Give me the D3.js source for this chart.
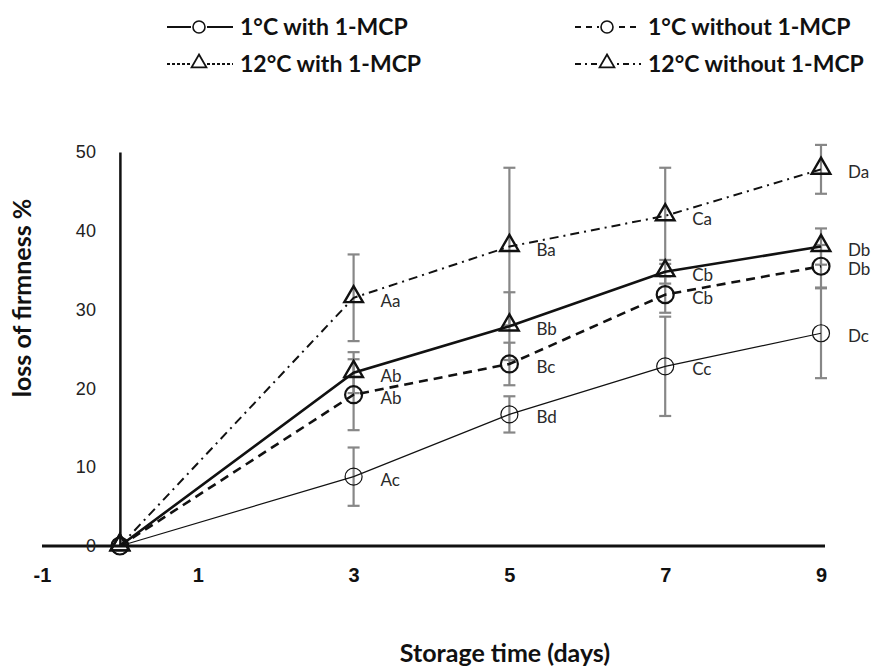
<!DOCTYPE html>
<html>
<head>
<meta charset="utf-8">
<script src="https://cdn.jsdelivr.net/npm/d3@7"></script>
<style>
  body { margin: 0; background: #fff; }
  svg { font-family: Lato, "Open Sans", sans-serif; }
</style>
</head>
<body>
<svg id="chart" width="879" height="671"></svg>
<script>
// storage days
const days = [0, 3, 5, 7, 9];
const xTicks = [-1, 1, 3, 5, 7, 9];
const yTicks = [0, 10, 20, 30, 40, 50];

const seriesNames = ["1°C with 1-MCP", "1°C without 1-MCP", "12°C with 1-MCP", "12°C without 1-MCP"];

// loss of firmness %
const s1 = [0, 8.8, 16.7, 22.8, 27.0];
const s2 = [0, 19.2, 23.1, 31.9, 35.5];
const s3 = [0, 22.0, 27.9, 34.8, 38.0];
const s4 = [0, 31.5, 38.0, 41.9, 47.8];

// error bar half widths
const e1 = [0, 3.7, 2.3, 6.3, 5.7];
const e2 = [0, 4.5, 2.7, 2.3, 2.7];
const e3 = [0, 2.6, 4.3, 1.5, 2.3];
const e4 = [0, 5.5, 10.0, 6.1, 3.1];

// significance letters (none at day 0)
const l1 = ["", "Ac", "Bd", "Cc", "Dc"];
const l2 = ["", "Ab", "Bc", "Cb", "Db"];
const l3 = ["", "Ab", "Bb", "Cb", "Db"];
const l4 = ["", "Aa", "Ba", "Ca", "Da"];

const series = [
  { name: seriesNames[0], v: s1, e: e1, lab: l1, shape: "circle", width: 1.2, dash: null, mStroke: 1.2, legDash: null },
  { name: seriesNames[1], v: s2, e: e2, lab: l2, shape: "circle", width: 2.6, dash: "9,6", mStroke: 2.2, legDash: "6,5" },
  { name: seriesNames[2], v: s3, e: e3, lab: l3, shape: "triangle", width: 2.6, dash: null, mStroke: 2.4, legDash: "3,2" },
  { name: seriesNames[3], v: s4, e: e4, lab: l4, shape: "triangle", width: 2, dash: "9,5,2,5", mStroke: 2.4, legDash: "6,4,2,4" }
];

const svg = d3.select("#chart");

const x = d3.scaleLinear().domain([-1, 9]).range([42, 821]);
const y = d3.scaleLinear().domain([0, 50]).range([546, 152]);

// axes
const xAxis = svg.append("g")
  .attr("transform", "translate(0," + y(0) + ")")
  .call(d3.axisBottom(x).tickValues(xTicks).tickSize(0).tickPadding(22).tickFormat(d => String(d)));
xAxis.select(".domain").attr("stroke", "#111").attr("stroke-width", 3).attr("d", "M" + x(-1) + ",0H" + (x(9) + 4));
xAxis.selectAll("text").attr("font-size", 20).attr("font-weight", "bold").attr("fill", "#111");

const yAxis = svg.append("g")
  .attr("transform", "translate(" + x(0) + ",0)")
  .call(d3.axisLeft(y).tickValues(yTicks).tickSize(0).tickPadding(24));
yAxis.select(".domain").attr("stroke", "#111").attr("stroke-width", 2.5);
yAxis.selectAll("text").attr("font-size", 18).attr("fill", "#222");

// axis titles
svg.append("text")
  .attr("x", 505).attr("y", 662)
  .attr("text-anchor", "middle")
  .attr("font-size", 25).attr("font-weight", "bold").attr("fill", "#111")
  .text("Storage time (days)");

svg.append("text")
  .attr("transform", "translate(31,298) rotate(-90)")
  .attr("text-anchor", "middle")
  .attr("font-size", 25).attr("font-weight", "bold").attr("fill", "#111")
  .text("loss of firmness %");

// error bars
const eg = svg.append("g").attr("stroke", "#878787").attr("stroke-width", 2.2);
series.forEach(s => {
  days.forEach((d, i) => {
    if (!s.e[i]) return;
    const cx = x(d), top = y(s.v[i] + s.e[i]), bot = y(s.v[i] - s.e[i]);
    eg.append("line").attr("x1", cx).attr("x2", cx).attr("y1", top).attr("y2", bot);
    eg.append("line").attr("x1", cx - 6).attr("x2", cx + 6).attr("y1", top).attr("y2", top);
    eg.append("line").attr("x1", cx - 6).attr("x2", cx + 6).attr("y1", bot).attr("y2", bot);
  });
});

// lines
const line = d3.line().x((d, i) => x(days[i])).y(d => y(d));
series.forEach(s => {
  svg.append("path")
    .attr("d", line(s.v))
    .attr("fill", "none")
    .attr("stroke", "#111")
    .attr("stroke-width", s.width)
    .attr("stroke-dasharray", s.dash);
});

// markers
const tri = d3.symbol().type(d3.symbolTriangle).size(150);
function marker(g, s, cx, cy) {
  if (s.shape === "circle") {
    g.append("circle").attr("cx", cx).attr("cy", cy).attr("r", 8.5)
      .attr("fill", "none").attr("stroke", "#111").attr("stroke-width", s.mStroke);
  } else {
    g.append("path").attr("d", tri).attr("transform", "translate(" + cx + "," + (cy - 1) + ")")
      .attr("fill", "none").attr("stroke", "#111").attr("stroke-width", s.mStroke);
  }
}
const mg = svg.append("g");
series.forEach(s => {
  days.forEach((d, i) => marker(mg, s, x(d), y(s.v[i])));
});

// letters
const lg = svg.append("g").attr("font-size", 17).attr("fill", "#2a2a2a");
series.forEach(s => {
  days.forEach((d, i) => {
    if (!s.lab[i]) return;
    lg.append("text")
      .attr("x", x(d) + 27).attr("y", y(s.v[i]) + 9)
      .text(s.lab[i]);
  });
});

// legend
const legPos = [[167, 27], [575, 27], [167, 64], [575, 64]];
series.forEach((s, k) => {
  const [lx, ly] = legPos[k];
  const g = svg.append("g");
  g.append("line").attr("x1", lx).attr("x2", lx + 66).attr("y1", ly).attr("y2", ly)
    .attr("stroke", "#111").attr("stroke-width", 2)
    .attr("stroke-dasharray", s.legDash);
  g.append("rect").attr("x", lx + 24).attr("y", ly - 10).attr("width", 16).attr("height", 20).attr("fill", "#fff");
  if (s.shape === "circle") {
    g.append("circle").attr("cx", lx + 32).attr("cy", ly).attr("r", 6)
      .attr("fill", "none").attr("stroke", "#111").attr("stroke-width", 1.6);
  } else {
    g.append("path").attr("d", d3.symbol().type(d3.symbolTriangle).size(95))
      .attr("transform", "translate(" + (lx + 32) + "," + (ly - 1) + ")")
      .attr("fill", "none").attr("stroke", "#111").attr("stroke-width", 1.8);
  }
  g.append("text").attr("x", lx + 73).attr("y", ly + 8)
    .attr("font-size", 23).attr("font-weight", "bold").attr("fill", "#111")
    .text(s.name);
});
</script>
</body>
</html>
